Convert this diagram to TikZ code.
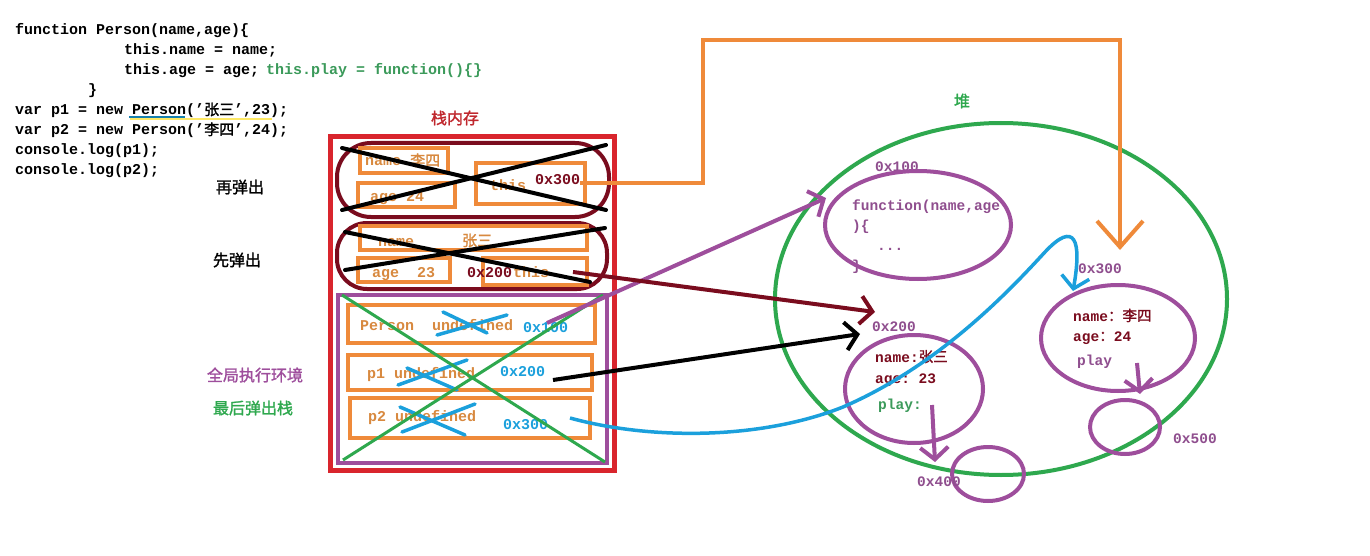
\documentclass[tikz,border=0pt]{standalone}
\usepackage{fontspec}
\setmainfont{Liberation Serif}
\setmonofont{Liberation Mono}
\newfontfamily\cjk[BoldFont={Noto Sans CJK SC},BoldFeatures={FakeBold=1.5}]{Noto Sans CJK SC}
\usetikzlibrary{arrows.meta}
\definecolor{cOrange}{HTML}{EF8A3A}
\definecolor{cOrText}{HTML}{D8893F}
\definecolor{cRed}{HTML}{D9252D}
\definecolor{cDark}{HTML}{7A0C1E}
\definecolor{cPurple}{HTML}{9E4E9C}
\definecolor{cPurText}{HTML}{8F4E8E}
\definecolor{cGreen}{HTML}{2EA84E}
\definecolor{cCodeGreen}{HTML}{3B9A5A}
\definecolor{cBlue}{HTML}{1BA0DC}
\definecolor{cTitle}{HTML}{C0272D}
\begin{document}
\begin{tikzpicture}[x=1pt,y=-1pt,
  code/.style={anchor=base west,inner sep=0pt,font=\fontsize{15}{18}\selectfont\ttfamily\bfseries},
  stk/.style={code,text=cOrText},
  heap/.style={anchor=base west,inner sep=0pt,font=\fontsize{14.5}{17}\selectfont\ttfamily\bfseries},
  lbl/.style={inner sep=0pt,font=\fontsize{16}{19}\selectfont\cjk\bfseries},
  orbox/.style={draw=cOrange,line width=4pt},
  xline/.style={line width=4pt,line cap=round},
  bx/.style={cBlue,line width=3.5pt,line cap=round},
  barb/.style={-{Straight Barb[length=12pt,width=28pt]}},
  bigbarb/.style={-{Straight Barb[length=26pt,width=46pt]}}
]
\useasboundingbox[fill=white] (0,0) rectangle (1370,556);

% ---------- code ----------
\node[code] (c1) at (15,35) {function Person(name,age)\{};
\node[code] (c2) at (124,55) {this.name = name;};
\node[code] (c3) at (124,75) {this.age = age;};
\node[code,text=cCodeGreen] (c3b) at (266,75) {this.play = function()\{\}};
\node[code] (c4) at (88,95) {\}};
\node[code] (c5) at (15,115) {var p1 = new Person(’{\cjk 张三}’,23);};
\node[code] (c6) at (15,135) {var p2 = new Person(’{\cjk 李四}’,24);};
\node[code] (c7) at (15,155) {console.log(p1);};
\node[code] (c8) at (15,175) {console.log(p2);};
\draw[yellow!80!orange!60,line width=2pt] (130,119) -- (272,119);
\draw[cBlue!80!black,line width=2pt] (129,117) -- (185,117);

% ---------- left labels ----------
\node[lbl] (l1) at (240,187) {再弹出};
\node[lbl] (l2) at (237,260) {先弹出};
\node[lbl,text=cPurple] (l3) at (255,375) {全局执行环境};
\node[lbl,text=cGreen] (l4) at (253,408) {最后弹出栈};
\node[lbl,text=cTitle] (t1) at (455,118) {栈内存};
\node[lbl,text=cGreen] (t2) at (962,101) {堆};

% ---------- stack ----------
\draw[cRed,line width=5pt] (330,137) rectangle (614,470);

% frame 1 (p2 call)
\draw[cDark,line width=4pt,rounded corners=34pt] (337,143) rectangle (609,217);
\draw[orbox] (360,148) rectangle (448,173);
\draw[orbox] (358,183) rectangle (455,207);
\draw[orbox] (476,163) rectangle (585,204);
\node[stk] (f1n) at (365,166) {name {\cjk 李四}};
\node[stk] (f1a) at (370,201) {age 24};
\node[stk] (f1t) at (490,190) {this};
\node[code,text=cDark] (f1v) at (535,185) {0x300};
\draw[xline] (342,148) -- (606,210);
\draw[xline] (342,210) -- (606,145);

% frame 2 (p1 call)
\draw[cDark,line width=4pt,rounded corners=30pt] (337,223) rectangle (607,289);
\draw[orbox] (360,226) rectangle (587,250);
\draw[orbox] (358,258) rectangle (450,282);
\draw[orbox] (483,258) rectangle (587,285);
\node[stk] (f2n) at (378,246) {name};
\node[stk] (f2z) at (462,246) {\cjk 张三};
\node[stk] (f2a) at (372,277) {age \ 23};
\node[code,text=cDark] (f2v) at (467,277) {0x200};
\node[stk] (f2t) at (513,277) {this};
\draw[xline] (345,232) -- (590,282);
\draw[xline] (345,270) -- (605,228);

% global frame
\draw[cPurple,line width=4pt] (338,295) rectangle (607,463);
\draw[orbox] (348,305) rectangle (595,343);
\draw[orbox] (348,355) rectangle (592,390);
\draw[orbox] (350,398) rectangle (590,438);
\node[stk] (g1) at (360,330) {Person \ undefined};
\node[code,text=cBlue] (g1v) at (523,332) {0x100};
\node[stk] (g2) at (367,378) {p1 undefined};
\node[code,text=cBlue] (g2v) at (500,376) {0x200};
\node[stk] (g3) at (368,421) {p2 undefined};
\node[code,text=cBlue] (g3v) at (503,429) {0x300};
\draw[bx] (443,312) -- (487,333);
\draw[bx] (437,335) -- (507,315);
\draw[bx] (407,368) -- (457,390);
\draw[bx] (398,385) -- (467,360);
\draw[bx] (400,407) -- (465,435);
\draw[bx] (402,432) -- (475,404);
\draw[cGreen,line width=3pt] (342,295) -- (605,462);
\draw[cGreen,line width=3pt] (343,460) -- (603,295);

% ---------- heap ----------
\draw[cGreen,line width=4pt] (1001,299) ellipse [x radius=226,y radius=176];

\node[heap,text=cPurText] (h1) at (875,172) {0x100};
\node[heap,text=cPurText] (fn1) at (852,211) {function(name,age};
\node[heap,text=cPurText] (fn2) at (852,230) {)\{};
\node[heap,text=cPurText] (fn3) at (877,250) {...};
\node[heap,text=cPurText] (fn4) at (852,270) {\}};
\draw[cPurple,line width=4pt] (918,225) ellipse [x radius=93,y radius=54];

\node[heap,text=cPurText] (h2) at (872,331) {0x200};
\node[heap,text=cDark] (o1n) at (875,362) {name:{\cjk 张三}};
\node[heap,text=cDark] (o1a) at (875,383) {age: 23};
\node[heap,text=cCodeGreen] (o1p) at (878,409) {play:};
\draw[cPurple,line width=4pt] (914,389) ellipse [x radius=69,y radius=54];

\node[heap,text=cPurText] (h3) at (1078,273) {0x300};
\node[heap,text=cDark] (o2n) at (1073,321) {name{\cjk ：李四}};
\node[heap,text=cDark] (o2a) at (1073,341) {age{\cjk ：}24};
\node[heap,text=cPurText] (o2p) at (1077,365) {play};
\draw[cPurple,line width=4pt] (1118,338) ellipse [x radius=77,y radius=53];

\draw[cPurple,line width=4pt] (988,474) ellipse [x radius=36,y radius=27];
\node[heap,text=cPurText] (h4) at (917,486) {0x400};
\draw[cPurple,line width=4pt] (1125,427) ellipse [x radius=35,y radius=27];
\node[heap,text=cPurText] (h5) at (1173,443) {0x500};

% ---------- connectors ----------
\coordinate (aO1) at (580,183);
\coordinate (aO2) at (1120,250);
\draw[cOrange,line width=4pt,bigbarb] (aO1) -- (703,183) -- (703,40) -- (1120,40) -- (aO2);

\coordinate (aP1) at (547,323);
\coordinate (aP2) at (826,198);
\draw[cPurple,line width=4pt,barb] (aP1) -- (aP2);

\coordinate (aD1) at (573,272);
\coordinate (aD2) at (875,312);
\draw[cDark,line width=4pt,barb] (aD1) -- (aD2);

\coordinate (aK1) at (553,380);
\coordinate (aK2) at (860,334);
\draw[black,line width=4pt,barb] (aK1) -- (aK2);

\coordinate (aB1) at (570,418);
\coordinate (aBm) at (843,407);
\coordinate (aBn) at (1045,252);
\coordinate (aB2) at (1073,291);
\draw[cBlue,line width=3.5pt,barb] (aB1) .. controls (650,440) and (760,440) .. (aBm)
  .. controls (940,365) and (1010,290) .. (aBn)
  .. controls (1075,220) and (1082,240) .. (aB2);

\coordinate (aQ1) at (932,405);
\coordinate (aQ2) at (935,462);
\draw[cPurple,line width=4pt,barb] (aQ1) -- (aQ2);

\coordinate (aR1) at (1137,363);
\coordinate (aR2) at (1140,394);
\draw[cPurple,line width=4pt,barb] (aR1) -- (aR2);
\end{tikzpicture}
\end{document}
